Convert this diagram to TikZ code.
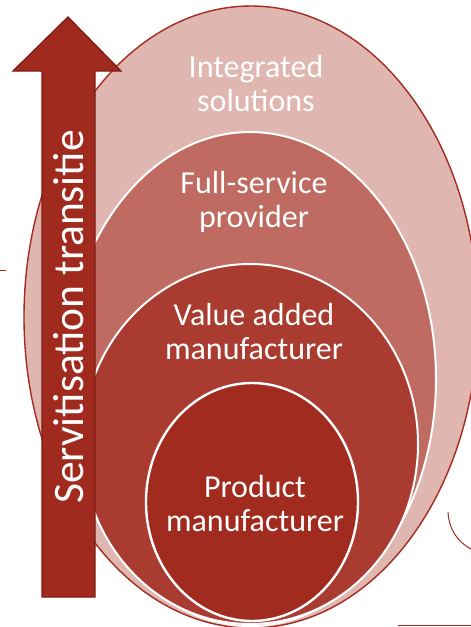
\documentclass[tikz,border=0pt]{standalone}
\usepackage{fontspec}
\setmainfont{Carlito}
\definecolor{outerfill}{HTML}{DFB6B0}
\definecolor{outerline}{HTML}{A52A1F}
\definecolor{fsfill}{HTML}{BF6B61}
\definecolor{vafill}{HTML}{A93B30}
\definecolor{pmfill}{HTML}{A22B1F}
\definecolor{arrowfill}{HTML}{A12A1F}
\definecolor{arrowline}{HTML}{7E1D14}
\tikzset{
  ring/.style={draw=white, line width=2pt},
  lbl/.style={text=white, align=center, font=\fontsize{32}{34}\selectfont, inner sep=0pt},
  stray/.style={draw=outerline, line width=1pt},
}
\begin{document}
\begin{tikzpicture}[x=1pt,y=-1pt]
\useasboundingbox (0,0) rectangle (471,627);
% stray fragments
\draw[stray] (0,270.5) -- (6,270.5);
\draw[stray] (448,512) .. controls (449,530) and (458,542) .. (471,549);
\draw[stray] (398,625.8) -- (471,625.8);
% ellipses
\path[fill=outerfill, draw=outerline, line width=1.4pt] (251,317) ellipse [x radius=227, y radius=311];
\path[fill=fsfill, ring] (250,379) ellipse [x radius=186, y radius=247];
\path[fill=vafill, ring] (250,444) ellipse [x radius=168, y radius=180];
\path[fill=pmfill, ring, line width=2.4pt] (252,502) ellipse [x radius=106, y radius=119];
% labels
\node[lbl] (is) at (256,84) {Integrated\\solutions};
\node[lbl] (fs) at (254,202) {Full-service\\provider};
\node[lbl] (va) at (254,332) {Value added\\manufacturer};
\node[lbl] (pm) at (255,504) {Product\\manufacturer};
% arrow
\draw[fill=arrowfill, draw=arrowline, line width=1.3pt, line join=miter]
  (42,597) -- (42,71) -- (13,71) -- (68,17) -- (121,71) -- (95,71) -- (95,597) -- cycle;
\node[text=white, rotate=90, font=\fontsize{43.5}{48}\selectfont, inner sep=0pt] (st) at (69,317) {Servitisation transitie};
\end{tikzpicture}
\end{document}
